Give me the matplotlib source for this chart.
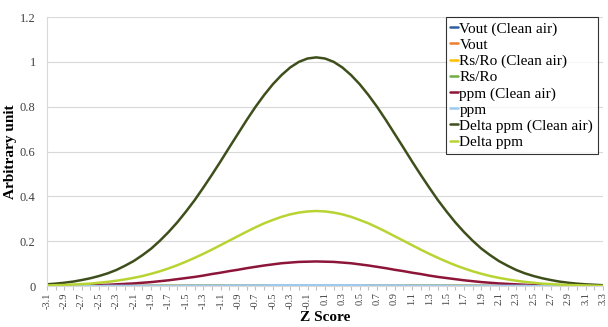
import matplotlib
matplotlib.use("Agg")
import matplotlib.pyplot as plt
import numpy as np

plt.rcParams['font.family'] = ['Liberation Serif', 'DejaVu Serif']

# Z score categories (-3.1 .. 3.3 step 0.1)
z_labels = ["-3.1", "-3", "-2.9", "-2.8", "-2.7", "-2.6", "-2.5", "-2.4", "-2.3", "-2.2",
            "-2.1", "-2", "-1.9", "-1.8", "-1.7", "-1.6", "-1.5", "-1.4", "-1.3", "-1.2",
            "-1.1", "-1", "-0.9", "-0.8", "-0.7", "-0.6", "-0.5", "-0.4", "-0.3", "-0.2",
            "-0.1", "0", "0.1", "0.2", "0.3", "0.4", "0.5", "0.6", "0.7", "0.8",
            "0.9", "1", "1.1", "1.2", "1.3", "1.4", "1.5", "1.6", "1.7", "1.8",
            "1.9", "2", "2.1", "2.2", "2.3", "2.4", "2.5", "2.6", "2.7", "2.8",
            "2.9", "3", "3.1", "3.2", "3.3"]

vout_clean = [0, 0, 0, 0, 0, 0, 0, 0, 0, 0, 0, 0, 0, 0, 0, 0,
              0.001, 0.001, 0.001, 0.001, 0.001, 0.001, 0.001, 0.001,
              0.001, 0.001, 0.001, 0.001, 0.001, 0.001, 0.001, 0.001,
              0.001, 0.001, 0.001, 0.001, 0.001, 0.001, 0.001, 0.001,
              0.001, 0.001, 0.001, 0.001, 0.001, 0.001, 0.001,
              0, 0, 0, 0, 0, 0, 0, 0, 0, 0, 0, 0, 0, 0, 0, 0, 0, 0]
vout = [0, 0, 0, 0, 0, 0, 0, 0, 0, 0,
        0.001, 0.001, 0.001, 0.001, 0.001, 0.001, 0.001, 0.001, 0.001, 0.001,
        0.002, 0.002, 0.002, 0.002, 0.002, 0.002,
        0.003, 0.003, 0.003, 0.003, 0.003, 0.003,
        0.003, 0.003, 0.003, 0.003, 0.003,
        0.002, 0.002, 0.002, 0.002, 0.002, 0.002,
        0.001, 0.001, 0.001, 0.001, 0.001, 0.001, 0.001, 0.001, 0.001, 0.001,
        0, 0, 0, 0, 0, 0, 0, 0, 0, 0, 0, 0]
rsro_clean = [0, 0, 0, 0, 0, 0, 0, 0, 0, 0, 0, 0, 0, 0,
              0.001, 0.001, 0.001, 0.001, 0.001, 0.001, 0.001, 0.001,
              0.002, 0.002, 0.002, 0.002, 0.002, 0.002, 0.002, 0.002, 0.002, 0.002,
              0.002, 0.002, 0.002, 0.002, 0.002, 0.002, 0.002, 0.002, 0.002,
              0.001, 0.001, 0.001, 0.001, 0.001, 0.001, 0.001, 0.001,
              0, 0, 0, 0, 0, 0, 0, 0, 0, 0, 0, 0, 0, 0, 0, 0]
rsro = [0, 0, 0, 0, 0, 0, 0, 0, 0, 0, 0, 0,
        0.001, 0.001, 0.001, 0.001, 0.001, 0.001, 0.001, 0.001, 0.001, 0.001,
        0.002, 0.002, 0.002, 0.002, 0.002, 0.002, 0.002, 0.002, 0.002, 0.002,
        0.002, 0.002, 0.002, 0.002, 0.002, 0.002, 0.002, 0.002, 0.002,
        0.001, 0.001, 0.001, 0.001, 0.001, 0.001, 0.001, 0.001, 0.001, 0.001,
        0, 0, 0, 0, 0, 0, 0, 0, 0, 0, 0, 0, 0, 0]
ppm_clean = [0.001, 0.001, 0.002, 0.002, 0.003, 0.004, 0.005, 0.006, 0.008, 0.010,
             0.012, 0.015, 0.018, 0.022, 0.026, 0.031, 0.036, 0.041, 0.047, 0.054,
             0.060, 0.067, 0.073, 0.080, 0.086, 0.092, 0.097, 0.102, 0.105, 0.108,
             0.109, 0.110, 0.109, 0.108, 0.105, 0.102, 0.097, 0.092, 0.086, 0.080,
             0.073, 0.067, 0.060, 0.054, 0.047, 0.041, 0.036, 0.031, 0.026, 0.022,
             0.018, 0.015, 0.012, 0.010, 0.008, 0.006, 0.005, 0.004, 0.003, 0.002,
             0.002, 0.001, 0.001, 0.001, 0.000]
ppm = [0, 0, 0, 0, 0, 0, 0,
       0.001, 0.001, 0.001, 0.001, 0.001, 0.001, 0.001, 0.001, 0.001,
       0.002, 0.002, 0.002, 0.002, 0.002,
       0.003, 0.003, 0.003, 0.003, 0.003,
       0.004, 0.004, 0.004, 0.004, 0.004, 0.004,
       0.004, 0.004, 0.004, 0.004, 0.004,
       0.003, 0.003, 0.003, 0.003, 0.003,
       0.002, 0.002, 0.002, 0.002, 0.002,
       0.001, 0.001, 0.001, 0.001, 0.001, 0.001, 0.001, 0.001, 0.001,
       0, 0, 0, 0, 0, 0, 0, 0, 0]
delta_ppm_clean = [0.008, 0.011, 0.015, 0.020, 0.027, 0.035, 0.045, 0.057, 0.072, 0.091,
                   0.112, 0.138, 0.167, 0.202, 0.241, 0.284, 0.332, 0.383, 0.439, 0.497,
                   0.557, 0.619, 0.680, 0.741, 0.799, 0.852, 0.900, 0.941, 0.975, 1.000,
                   1.015, 1.020, 1.015, 1.000, 0.975, 0.941, 0.900, 0.852, 0.799, 0.741,
                   0.680, 0.619, 0.557, 0.497, 0.439, 0.383, 0.332, 0.284, 0.241, 0.202,
                   0.167, 0.138, 0.112, 0.091, 0.072, 0.057, 0.045, 0.035, 0.027, 0.020,
                   0.015, 0.011, 0.008, 0.006, 0.004]
delta_ppm = [0.003, 0.004, 0.005, 0.007, 0.009, 0.011, 0.015, 0.019, 0.024, 0.030,
             0.037, 0.045, 0.055, 0.066, 0.079, 0.093, 0.109, 0.126, 0.144, 0.163,
             0.183, 0.203, 0.223, 0.243, 0.262, 0.280, 0.295, 0.309, 0.320, 0.328,
             0.333, 0.335, 0.333, 0.328, 0.320, 0.309, 0.295, 0.280, 0.262, 0.243,
             0.223, 0.203, 0.183, 0.163, 0.144, 0.126, 0.109, 0.093, 0.079, 0.066,
             0.055, 0.045, 0.037, 0.030, 0.024, 0.019, 0.015, 0.011, 0.009, 0.007,
             0.005, 0.004, 0.003, 0.002, 0.001]

series_names = ["Vout (Clean air)", "Vout", "Rs/Ro (Clean air)", "Rs/Ro",
                "ppm (Clean air)", "ppm", "Delta ppm (Clean air)", "Delta ppm"]
series_values = [vout_clean, vout, rsro_clean, rsro, ppm_clean, ppm,
                 delta_ppm_clean, delta_ppm]
colors = ["#2E5F9E", "#ED7D31", "#FFC000", "#70AD47",
          "#8C1538", "#9DC9EE", "#3E4F1C", "#B8D433"]

x = np.arange(len(z_labels))

fig = plt.figure(figsize=(6.08, 3.27), dpi=100)
ax = fig.add_axes([0.077, 0.125, 0.915, 0.823])

for name, vals, c in zip(series_names, series_values, colors):
    ax.plot(x, vals, color=c, lw=1.8, label=name, solid_capstyle='round')

ax.set_xlim(0, len(z_labels) - 1)
ax.set_ylim(0, 1.2)
ax.set_yticks(np.arange(0, 1.21, 0.2))
ax.set_yticklabels(["0", "0.2", "0.4", "0.6", "0.8", "1", "1.2"])
ax.yaxis.grid(True, color="#D9D9D9", lw=0.8)
ax.set_axisbelow(True)

ax.set_xticks(x[::2])
ax.set_xticklabels([f"{float(v):.1f}" for v in z_labels[::2]], rotation=90)
ax.set_xticks(x, minor=True)
ax.tick_params(axis='x', which='both', length=3, color="#BFBFBF", width=0.8,
               labelsize=7.5, labelcolor="#404040", pad=1.5)
ax.tick_params(axis='y', length=0, labelsize=9, labelcolor="#404040", pad=8)

for s in ['top', 'right']:
    ax.spines[s].set_visible(False)
ax.spines['left'].set_color("#D9D9D9")
ax.spines['bottom'].set_color("#D9D9D9")

fig.text(0.535, 0.028, "Z Score", fontsize=11, fontweight='bold',
         ha='center', va='center')
ax.set_ylabel("Arbitrary unit", fontsize=11, fontweight='bold', labelpad=2)

leg = ax.legend(loc='upper right', bbox_to_anchor=(0.993, 1.005), fontsize=11,
                frameon=True, fancybox=False, edgecolor="#000000",
                handlelength=0.5, handletextpad=0.1, labelspacing=0.16,
                borderpad=0.3, borderaxespad=0.1)
leg.get_frame().set_linewidth(0.8)

fig.savefig("out.png", dpi=100)
